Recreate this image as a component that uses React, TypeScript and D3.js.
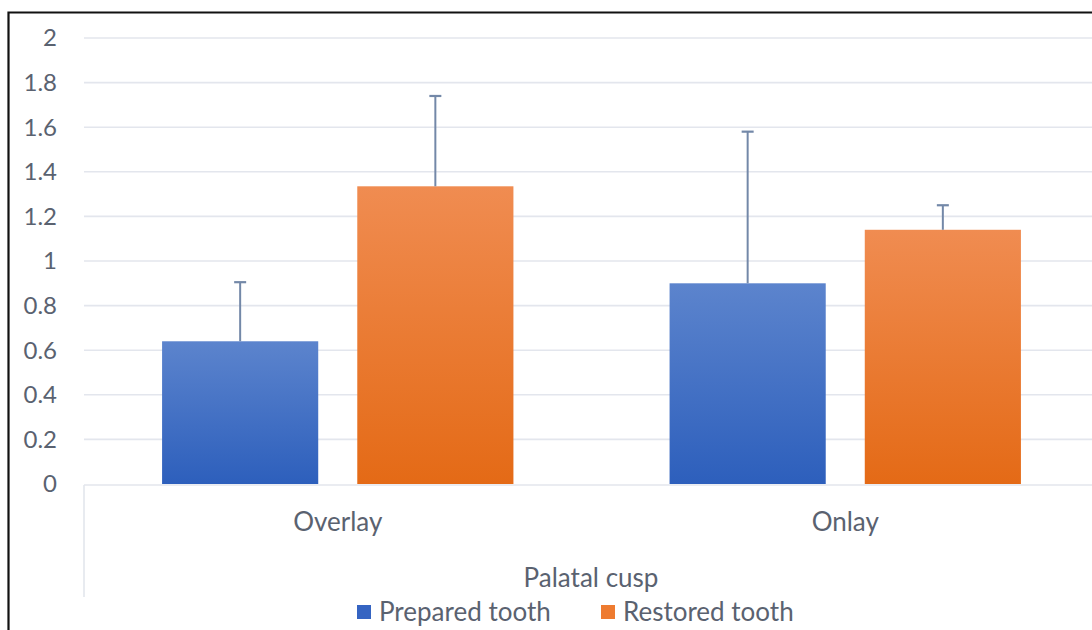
import * as d3 from "d3";

const categories = ["Overlay", "Onlay"];
const seriesNames = ["Prepared tooth", "Restored tooth"];
const means = [
  [0.64, 0.9],
  [1.335, 1.14],
];
const errorTops = [
  [0.905, 1.58],
  [1.74, 1.25],
];
const yTicks = [0, 0.2, 0.4, 0.6, 0.8, 1, 1.2, 1.4, 1.6, 1.8, 2];
const axisTitle = "Palatal cusp";

const W = 1092;
const H = 630;
const FONT = "Lato, 'Open Sans', sans-serif";
const TEXT = "#5a6270";
const GRID = "#e3e6ed";
const ERR = "#7388a8";

const gradients = [
  { id: "gBlue", top: "#5c84cd", bottom: "#2d5fbc", legend: "#3564c2" },
  { id: "gOrange", top: "#f08c51", bottom: "#e46a16", legend: "#ee7b30" },
];

export default function App() {
  const plotLeft = 84;
  const y = d3.scaleLinear().domain([0, 2]).range([484, 38]);
  const x0 = d3
    .scaleBand<string>()
    .domain(categories)
    .range([plotLeft, plotLeft + 1015])
    .paddingInner(0)
    .paddingOuter(0);
  const x1 = d3
    .scaleBand<string>()
    .domain(seriesNames)
    .range([0, x0.bandwidth()])
    .paddingInner(0.2)
    .paddingOuter(0.4);

  return (
    <svg
      width={W}
      height={H}
      style={{ position: "fixed", left: 0, top: 0, background: "#fff" }}
      fontFamily={FONT}
    >
      <defs>
        {gradients.map((g) => (
          <linearGradient key={g.id} id={g.id} x1="0" y1="0" x2="0" y2="1">
            <stop offset="0%" stopColor={g.top} />
            <stop offset="100%" stopColor={g.bottom} />
          </linearGradient>
        ))}
      </defs>

      {/* frame */}
      <path d={`M8.5,${H} V12.5 H${W}`} fill="none" stroke="#111" strokeWidth={2.2} />

      {/* grid */}
      {yTicks.slice(1).map((t) => (
        <line key={t} x1={plotLeft} x2={W} y1={y(t)} y2={y(t)} stroke={GRID} strokeWidth={1.6} />
      ))}
      {yTicks.map((t) => (
        <text
          key={"l" + t}
          x={57}
          y={y(t)}
          dy="0.35em"
          textAnchor="end"
          fontSize={24}
          fill={TEXT}
        >
          {t}
        </text>
      ))}

      {/* bars */}
      {categories.map((c, ci) =>
        seriesNames.map((s, si) => {
          const bx = (x0(c) ?? 0) + (x1(s) ?? 0);
          const bw = x1.bandwidth();
          const cx = bx + bw / 2;
          return (
            <g key={c + s}>
              <rect
                x={bx}
                y={y(means[si][ci])}
                width={bw}
                height={y(0) - y(means[si][ci])}
                fill={`url(#${gradients[si].id})`}
              />
              <line x1={cx} x2={cx} y1={y(means[si][ci])} y2={y(errorTops[si][ci])} stroke={ERR} strokeWidth={2} />
              <line x1={cx - 6} x2={cx + 6} y1={y(errorTops[si][ci])} y2={y(errorTops[si][ci])} stroke={ERR} strokeWidth={2.2} />
            </g>
          );
        })
      )}

      {/* category axis */}
      <line x1={plotLeft} x2={W} y1={y(0) + 1} y2={y(0) + 1} stroke={GRID} strokeWidth={1.6} />
      <line x1={plotLeft} x2={plotLeft} y1={y(0) + 1} y2={597} stroke={GRID} strokeWidth={1.6} />
      {categories.map((c) => (
        <text
          key={"c" + c}
          x={(x0(c) ?? 0) + x0.bandwidth() / 2}
          y={522}
          dy="0.35em"
          textAnchor="middle"
          fontSize={26}
          fill={TEXT}
        >
          {c}
        </text>
      ))}
      <text x={591} y={578} dy="0.35em" textAnchor="middle" fontSize={26} fill={TEXT}>
        {axisTitle}
      </text>

      {/* legend */}
      {seriesNames.map((s, i) => {
        const lx = [357, 601][i];
        return (
          <g key={"lg" + s}>
            <rect x={lx} y={605} width={14} height={14} fill={gradients[i].legend} />
            <text x={lx + 22} y={612} dy="0.35em" fontSize={26} fill={TEXT}>
              {s}
            </text>
          </g>
        );
      })}
    </svg>
  );
}
